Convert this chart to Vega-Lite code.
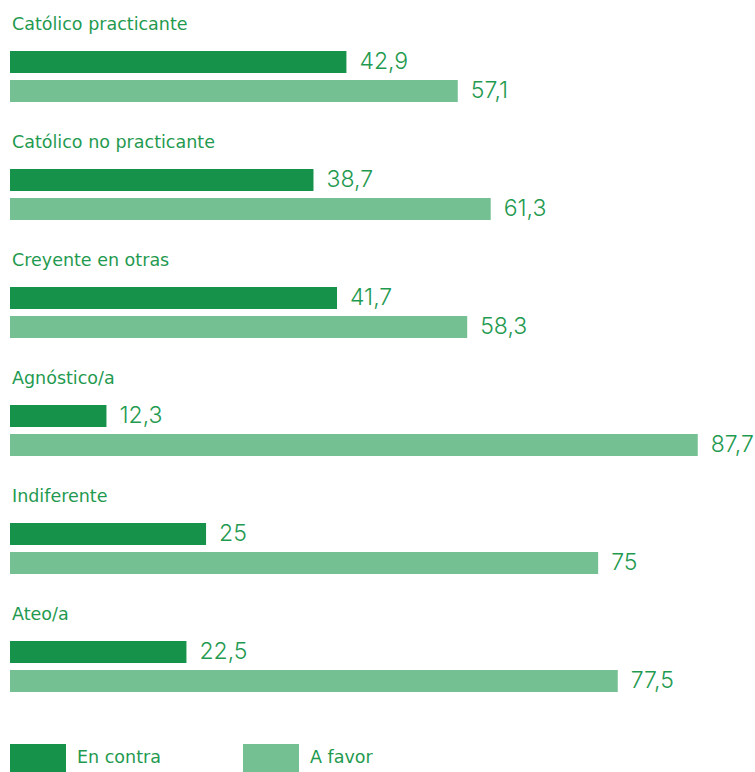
{
  "$schema": "https://vega.github.io/schema/vega-lite/v6.json",
  "width": 745,
  "height": 743,
  "padding": {"left": 10, "top": 0, "right": 0, "bottom": 0},
  "config": {
    "view": {"stroke": null},
    "font": "DejaVu Sans",
    "locale": {"number": {"decimal": ",", "thousands": ".", "grouping": [3], "currency": ["", " €"]}}
  },
  "data": {
    "values": [
      {"cat": "Católico practicante", "postura": "En contra", "valor": 42.9},
      {"cat": "Católico practicante", "postura": "A favor", "valor": 57.1},
      {"cat": "Católico no practicante", "postura": "En contra", "valor": 38.7},
      {"cat": "Católico no practicante", "postura": "A favor", "valor": 61.3},
      {"cat": "Creyente en otras", "postura": "En contra", "valor": 41.7},
      {"cat": "Creyente en otras", "postura": "A favor", "valor": 58.3},
      {"cat": "Agnóstico/a", "postura": "En contra", "valor": 12.3},
      {"cat": "Agnóstico/a", "postura": "A favor", "valor": 87.7},
      {"cat": "Indiferente", "postura": "En contra", "valor": 25},
      {"cat": "Indiferente", "postura": "A favor", "valor": 75},
      {"cat": "Ateo/a", "postura": "En contra", "valor": 22.5},
      {"cat": "Ateo/a", "postura": "A favor", "valor": 77.5}
    ]
  },
  "encoding": {
    "y": {"field": "cat", "type": "nominal", "sort": null, "axis": null,
          "scale": {"paddingInner": 0.568, "paddingOuter": 0.432}}
  },
  "layer": [
    {
      "mark": {"type": "bar"},
      "encoding": {
        "yOffset": {"field": "postura", "type": "nominal", "sort": ["En contra", "A favor"],
                    "scale": {"paddingInner": 0.24, "paddingOuter": 0}},
        "x": {"field": "valor", "type": "quantitative", "axis": null,
              "scale": {"domain": [0, 95], "nice": false}},
        "color": {
          "field": "postura", "type": "nominal",
          "scale": {"domain": ["En contra", "A favor"], "range": ["#17924a", "#74c092"]},
          "legend": {
            "title": null,
            "orient": "none",
            "legendX": 0,
            "legendY": 744,
            "direction": "horizontal",
            "padding": 0,
            "symbolType": "M-2,-1H2V1H-2Z",
            "symbolSize": 784,
            "symbolOffset": 14,
            "symbolStrokeWidth": 0,
            "symbolOpacity": 1,
            "labelFontSize": 17.5,
            "labelFont": "DejaVu Sans",
            "labelColor": "#1f9a50",
            "labelOffset": 25,
            "columnPadding": 82
          }
        }
      }
    },
    {
      "mark": {"type": "text", "align": "left", "baseline": "middle", "dx": 13, "fontSize": 23, "font": "Inter", "fontWeight": 300, "color": "#1f9a50"},
      "encoding": {
        "yOffset": {"field": "postura", "type": "nominal", "sort": ["En contra", "A favor"],
                    "scale": {"paddingInner": 0.24, "paddingOuter": 0}},
        "x": {"field": "valor", "type": "quantitative"},
        "text": {"field": "valor", "type": "quantitative", "format": ".1~f"}
      }
    },
    {
      "transform": [{"filter": "datum.postura === 'En contra'"}],
      "mark": {"type": "text", "align": "left", "baseline": "middle", "dx": 2, "dy": -26, "fontSize": 17.5, "color": "#1f9a50"},
      "encoding": {
        "y": {"field": "cat", "type": "nominal", "sort": null, "bandPosition": 0},
        "x": {"datum": 0, "type": "quantitative"},
        "text": {"field": "cat", "type": "nominal"}
      }
    }
  ]
}
